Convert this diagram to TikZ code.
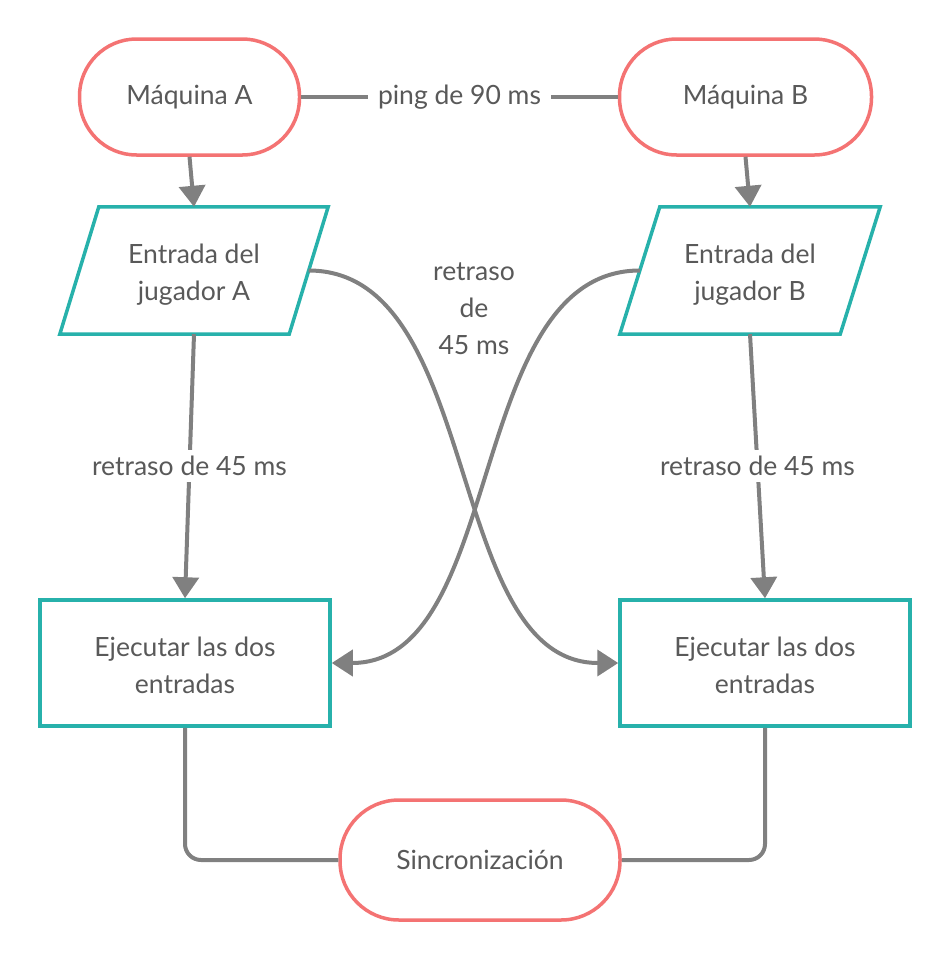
\documentclass[tikz,border=0pt]{standalone}
\usepackage{fontspec}
\setmainfont{Lato}
\usetikzlibrary{arrows.meta}
\definecolor{redc}{HTML}{F47373}
\definecolor{tealc}{HTML}{27B1AB}
\definecolor{linec}{HTML}{808080}
\definecolor{textc}{HTML}{595959}
\tikzset{
  base/.style={text=textc, font=\fontsize{26.5}{37}\selectfont, align=center, inner sep=0pt},
  stadium/.style={base, draw=redc, line width=3.5pt, fill=white, rounded corners=57pt, minimum height=116pt},
  paranode/.style={base, minimum height=127pt},
  parashape/.style={draw=tealc, line width=3.5pt},
  boxnode/.style={base, draw=tealc, line width=3.5pt, minimum width=290pt, minimum height=126pt},
  conn/.style={draw=linec, line width=4pt},
  arr/.style={conn, -{Triangle[length=21pt,width=26pt]}},
  lbl/.style={base, fill=white, inner xsep=10pt, inner ysep=6pt},
}
\begin{document}
\begin{tikzpicture}[x=1pt,y=-1pt]
\useasboundingbox (0,0) rectangle (950,961);

\node[stadium, minimum width=220pt] (ma) at (189.5,97) {Máquina A};
\node[stadium, minimum width=252pt] (mb) at (745.5,97) {Máquina B};
\node[stadium, minimum width=280pt, minimum height=120pt, rounded corners=59pt] (sync) at (480,860) {Sincronización};

\node[paranode, minimum width=229pt] (pa) at (194,270.5) {};
\node[paranode, minimum width=220pt] (pb) at (750,270.5) {};
\node[base] (pat) at ([yshift=-4pt]pa.center) {Entrada del\\jugador A};
\node[base] (pbt) at ([yshift=-4pt]pb.center) {Entrada del\\jugador B};
\draw[parashape] ([xshift=19.5pt]pa.north west) -- ([xshift=19.5pt]pa.north east) -- ([xshift=-19.5pt]pa.south east) -- ([xshift=-19.5pt]pa.south west) -- cycle;
\draw[parashape] ([xshift=20pt]pb.north west) -- ([xshift=20pt]pb.north east) -- ([xshift=-20pt]pb.south east) -- ([xshift=-20pt]pb.south west) -- cycle;

\node[boxnode] (ra) at (185,663) {};
\node[boxnode] (rb) at (765,663) {};
\node[base] (rat) at ([yshift=-2pt]ra.center) {Ejecutar las dos\\entradas};
\node[base] (rbt) at ([yshift=-2pt]rb.center) {Ejecutar las dos\\entradas};

% ping
\draw[conn] (ma.east) -- (mb.west) node[lbl, midway] (ping) {ping de 90 ms};

% vertical arrows
\draw[arr] (ma.south) -- (pa.north);
\draw[arr] (mb.south) -- (pb.north);
\draw[arr] (pa.south) -- (ra.north) node[lbl, pos=0.5] (la) {retraso de 45 ms};
\draw[arr] (pb.south) -- (rb.north) node[lbl, pos=0.5] (lb) {retraso de 45 ms};

% crossing curves
\draw[arr] (pa.east) .. controls +(175,0) and +(-175,0) .. (rb.west);
\draw[arr] (pb.west) .. controls +(-175,0) and +(175,0) .. (ra.east);
\node[base] (lc) at (474,309) {retraso\\de\\45 ms};

% to synchronization
\draw[conn, rounded corners=16pt] (ra.south) |- (sync.west);
\draw[conn, rounded corners=16pt] (rb.south) |- (sync.east);
\end{tikzpicture}
\end{document}
